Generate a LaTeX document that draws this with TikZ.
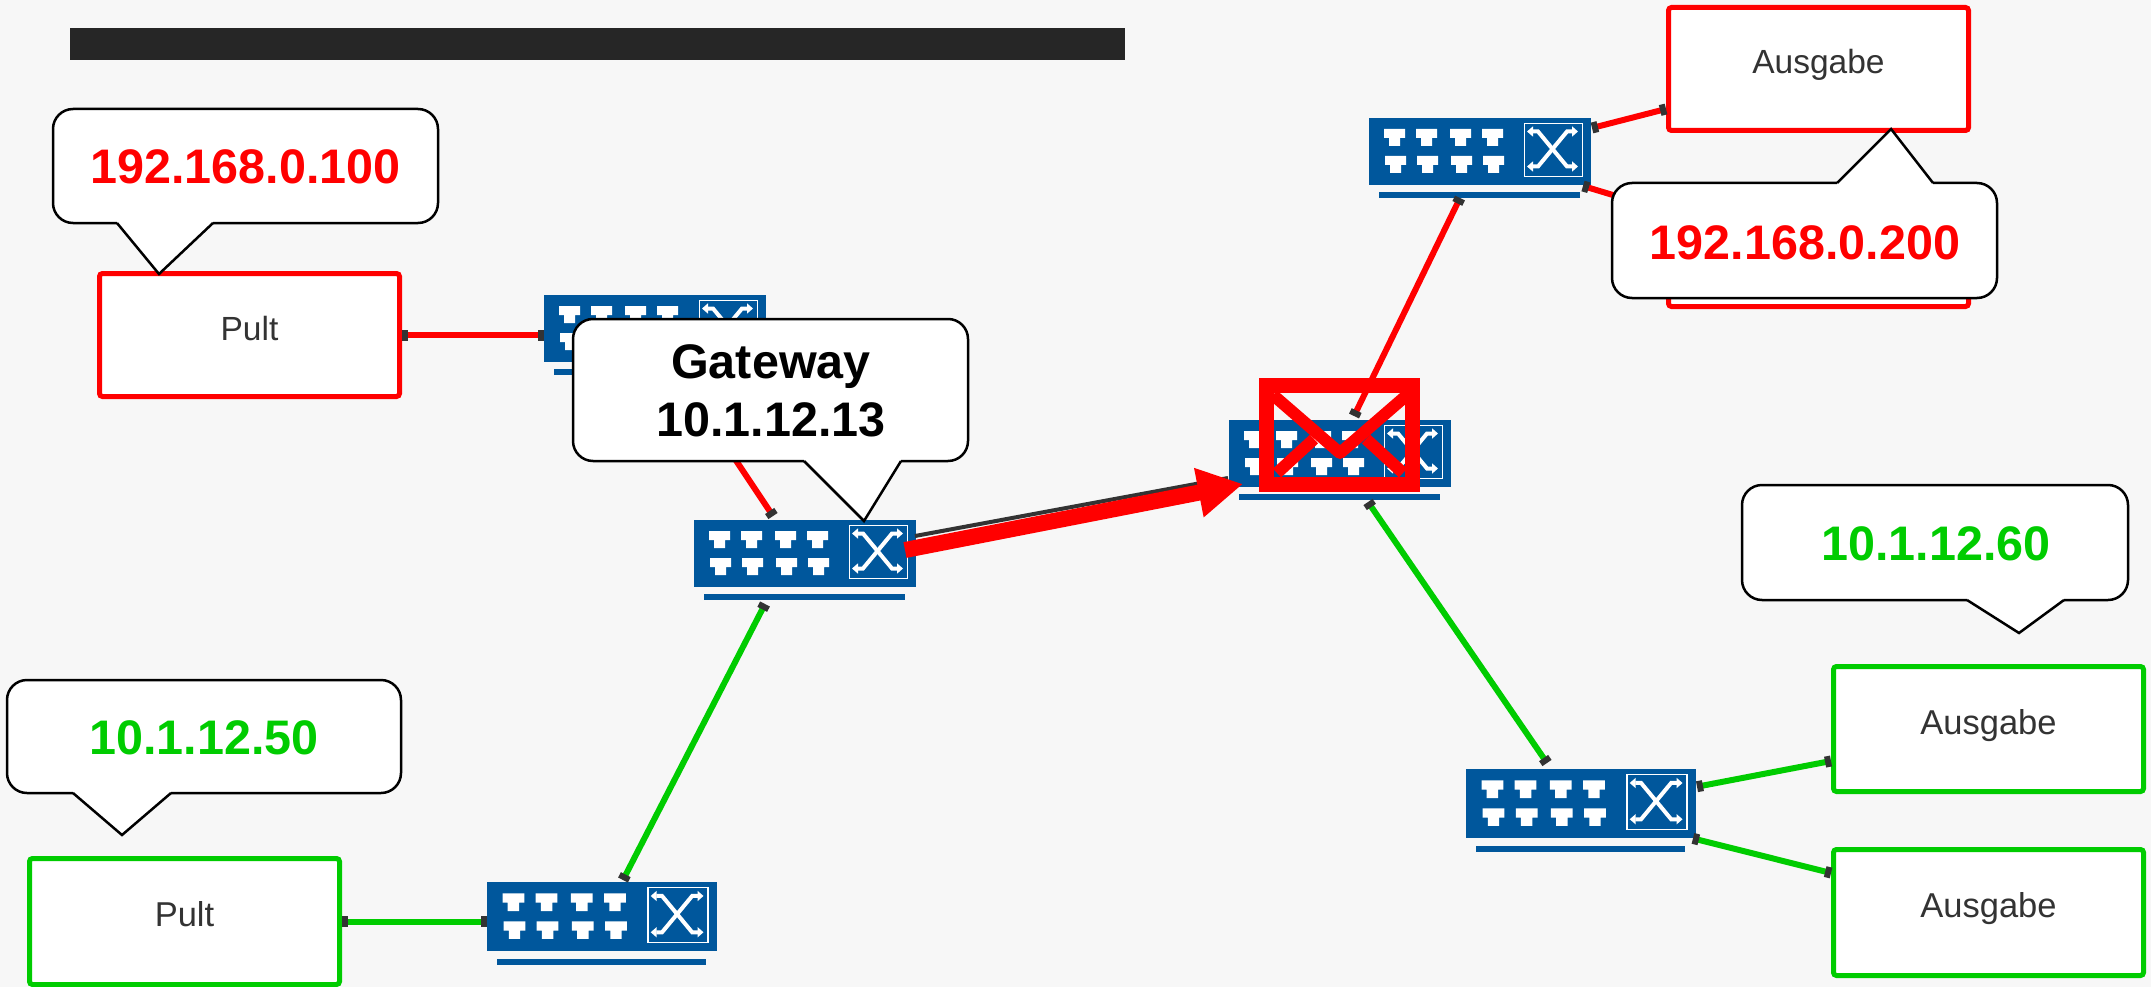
\documentclass[tikz,border=0pt]{standalone}
\usepackage{fontspec}
\setmainfont{Liberation Sans}
\usetikzlibrary{arrows.meta}
\definecolor{pagegray}{HTML}{F7F7F7}
\definecolor{barblack}{HTML}{262626}
\definecolor{swblue}{HTML}{00579C}
\definecolor{netred}{HTML}{FF0000}
\definecolor{netgreen}{HTML}{00CC00}
\definecolor{tipgray}{HTML}{333333}
\tikzset{
    switchbox/.style={rectangle,fill=swblue,inner sep=0pt,outer sep=0pt,minimum width=222pt,minimum height=67pt},
    devbox/.style={rectangle,draw=#1,line width=5pt,rounded corners=3pt,fill=white,text=tipgray,minimum width=300pt,minimum height=123pt,inner sep=0pt,text height=24pt,text depth=14pt,font=\fontsize{33.5}{38}\selectfont},
    wire/.style={line width=6pt,draw=#1,{Square[length=6pt,width=11pt,color=tipgray]}-{Square[length=6pt,width=11pt,color=tipgray]}},
    bubble/.style={draw=black,line width=2.5pt,fill=white,rounded corners=20pt},
    bubbletext/.style={anchor=base,inner sep=0pt,align=center,font=\fontsize{48.5}{58}\selectfont\bfseries,text=#1},
    crossline/.style={draw=white,line width=4pt,{Triangle[length=6pt,width=10pt]}-{Triangle[length=6pt,width=10pt]}},
}
\newcommand{\netswitch}[4]{
    \begin{scope}[shift={(#2,#3)},scale=#4]
        \node[switchbox,transform shape] (#1) at (111,33.5) {};
        \fill[swblue] (10,74) rectangle (211,80);
        \foreach \px in {15,47,81,113}{
            \fill[white] (\px,11)--(\px+21,11)--(\px+21,20)--(\px+16,20)--(\px+16,28)--(\px+5,28)--(\px+5,20)--(\px,20)--cycle;
            \fill[white] (\px+1,38)--(\px+22,38)--(\px+22,47)--(\px+17,47)--(\px+17,55)--(\px+6,55)--(\px+6,47)--(\px+1,47)--cycle;
        }
        \draw[white,line width=1.5pt] (155.5,5.5) rectangle (213.5,58.5);
        \draw[crossline] (158,13.5)--(169,13.5)--(198,48.5)--(209,48.5);
        \draw[crossline] (209,13.5)--(198,13.5)--(169,48.5)--(158,48.5);
    \end{scope}
}
\newcommand{\bubbletip}[3]{
    \fill[white] (#1)--(#2)--(#3)--cycle;
    \draw[white,line width=3.5pt] (#1)--(#3);
    \draw[black,line width=2.5pt] (#1)--(#2)--(#3);
}

\begin{document}
\begin{tikzpicture}[x=1pt,y=-1pt]
    \useasboundingbox (0,0) rectangle (2151,987);
    \fill[pagegray] (0,0) rectangle (2151,987);
    \fill[barblack] (70,28) rectangle (1125,60);

    \netswitch{swgate}{694}{520}{1}
    \netswitch{swred}{544}{295}{1}
    \netswitch{swmid}{1229}{420}{1}
    \netswitch{swout}{1369}{118}{1}
    \netswitch{swlow}{1466}{769}{1.036}
    \netswitch{swpult}{487}{882}{1.036}

    \node[devbox=netred] (pultred) at (249.5,335) {Pult};
    \node[devbox=netred] (ausgabetop) at (1818.5,69) {Ausgabe};
    \node[devbox=netred,minimum height=113pt] (ausgabehidden) at (1818.5,250) {};
    \node[devbox=netgreen,minimum width=310pt,minimum height=125pt,font=\fontsize{34.5}{38}\selectfont] (ausgabeone) at (1988.5,729) {Ausgabe};
    \node[devbox=netgreen,minimum width=310pt,minimum height=126pt,font=\fontsize{34.5}{38}\selectfont] (ausgabetwo) at (1988.5,912.5) {Ausgabe};
    \node[devbox=netgreen,minimum width=310pt,minimum height=126pt,font=\fontsize{34.5}{38}\selectfont] (pultgreen) at (184.5,921.5) {Pult};

    \draw[wire=netred] (pultred.east)--(pultred.east -| swred.west);
    \draw[wire=netred] ([xshift=-32pt,yshift=4pt]swgate.north)--([xshift=24pt,yshift=-13pt]swred.south);
    \draw[wire=netred] ([xshift=-20pt,yshift=-13pt]swout.south)--([xshift=14pt,yshift=4pt]swmid.north);
    \draw[wire=netred] ([xshift=1pt,yshift=23.5pt]swout.east)--([yshift=-40pt]ausgabetop.west);
    \draw[wire=netred] ([xshift=-8pt,yshift=-1pt]swout.south east)--([yshift=39pt]ausgabehidden.west);
    \draw[wire=netgreen] (pultgreen.east)--(pultgreen.east -| swpult.west);
    \draw[wire=netgreen] ([xshift=21pt,yshift=2pt]swpult.north)--([xshift=-40pt,yshift=-17pt]swgate.south);
    \draw[wire=netgreen] ([xshift=28pt,yshift=-15pt]swmid.south)--([xshift=-34pt,yshift=6pt]swlow.north);
    \draw[wire=netgreen] ([xshift=1pt,yshift=17pt]swlow.east)--([yshift=-32pt]ausgabeone.west);
    \draw[wire=netgreen] ([xshift=-3pt]swlow.south east)--([yshift=39.5pt]ausgabetwo.west);
    \draw[tipgray,line width=4pt] ([xshift=-1pt,yshift=17.5pt]swgate.east)--([xshift=-1pt,yshift=-24.5pt]swmid.west);
    \draw[netred,line width=16pt,-{Triangle[length=45pt,width=47pt]}] ([xshift=-11pt,yshift=3.5pt]swgate.east)--([xshift=14pt,yshift=-30.5pt]swmid.west);

    \draw[bubble] (53,109) rectangle (438,223);
    \bubbletip{117,223}{159,274}{213,223}
    \node[bubbletext=netred] (ipredpult) at (245.5,184) {192.168.0.100};

    \draw[bubble] (1612,183) rectangle (1997,298);
    \bubbletip{1837,183}{1891,129}{1933,183}
    \node[bubbletext=netred] (ipredout) at (1805,259) {192.168.0.200};

    \draw[bubble] (573,319) rectangle (968,461);
    \bubbletip{804,461}{864,521}{901,461}
    \node[bubbletext=black] (ipgate) at (771,436) {Gateway\\10.1.12.13};

    \draw[bubble] (7,680) rectangle (401,793);
    \bubbletip{73,793}{122,835}{171,793}
    \node[bubbletext=netgreen] (ipgreenpult) at (204,754) {10.1.12.50};

    \draw[bubble] (1742,485) rectangle (2128,600);
    \bubbletip{1967,600}{2019,633}{2064,600}
    \node[bubbletext=netgreen] (ipgreenout) at (1936,560) {10.1.12.60};

    \node[draw=netred,line width=15pt,minimum width=146pt,minimum height=99pt,inner sep=0pt] (envelope) at (1339.5,435) {};
    \draw[netred,line width=12pt,line join=round] (1273,395)--(1340,453)--(1407,395);
    \draw[netred,line width=12pt] (1277,473)--(1314,439);
    \draw[netred,line width=12pt] (1403,473)--(1366,439);
\end{tikzpicture}
\end{document}
